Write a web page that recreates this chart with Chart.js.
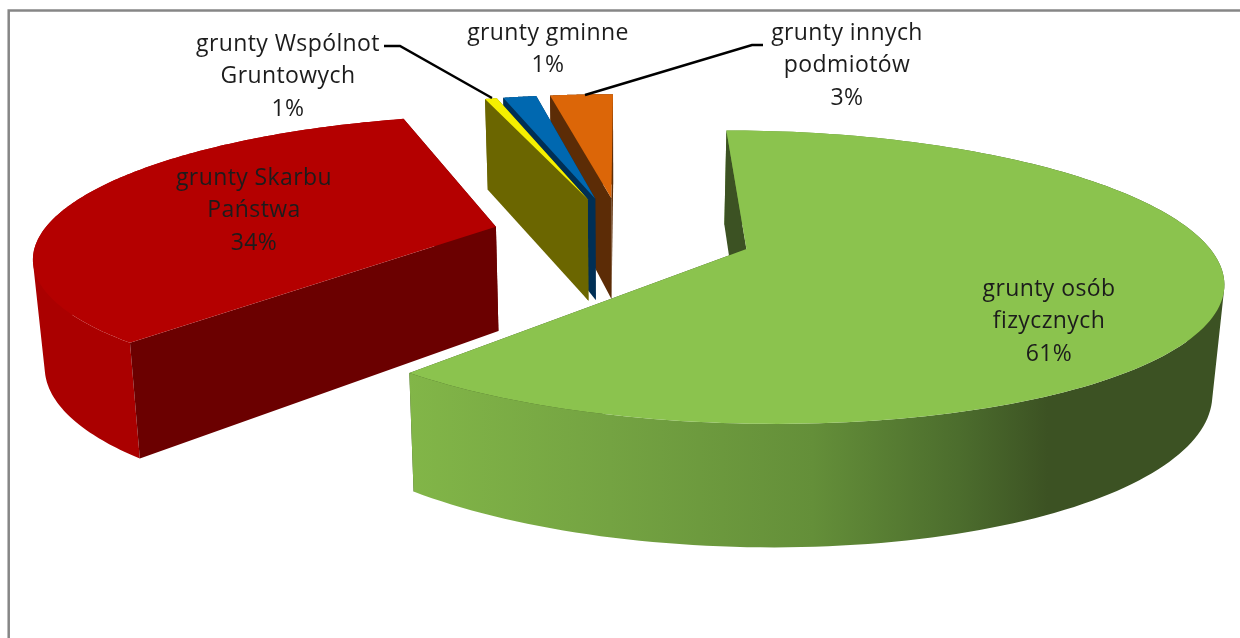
<!DOCTYPE html>
<html lang="pl">
<head>
<meta charset="utf-8">
<title>Struktura własności gruntów</title>
<script src="https://cdn.jsdelivr.net/npm/chart.js@4"></script>
<style>
  html, body { margin: 0; padding: 0; background: #fff; overflow: hidden; }
  canvas { display: block; }
</style>
</head>
<body>
<canvas id="pie3d" width="1240" height="638"></canvas>
<script>
// Dane
const categories = ['grunty osób\nfizycznych', 'grunty Skarbu\nPaństwa', 'grunty Wspólnot\nGruntowych', 'grunty gminne', 'grunty innych\npodmiotów'];
const values = [61.49, 33.8, 0.52, 1.45, 2.74];
const topColors = ['#8bc34e', '#b40000', '#f5f000', '#0068b0', '#dc6608'];
const wallColors = ['#3c5223', '#6b0000', '#6b6600', '#002f55', '#5c2c06'];
const rimColors = ['#3c5223', '#aa0000', '#6b6600', '#002f55', '#5c2c06'];
const drawOrder = [1, 4, 3, 2, 0];

const view = { originX: 622, originY: 235, scaleX: 455, scaleY: 136, persp: 0.188, depth: 105, shrink: 0.02 };

// Rzut punktu z płaszczyzny wykresu na ekran
function project(u, v, z) {
    const w = 1 - view.persp * v;
    return {
        x: view.originX + view.scaleX * u / w * (1 - view.shrink * z),
        y: view.originY + view.scaleY * v / w + view.depth * z / Math.pow(w, 0.7)
    };
}

function fillPoly(ctx, pts, fill) {
    ctx.beginPath();
    pts.forEach((p, i) => i ? ctx.lineTo(p.x, p.y) : ctx.moveTo(p.x, p.y));
    ctx.closePath();
    ctx.fillStyle = fill;
    ctx.fill();
}

// Sciana boczna jako jedna sciezka, czworokaty w tym samym kierunku
function fillBand(ctx, top, bottom, fill) {
    ctx.beginPath();
    for (let s = 0; s < top.length - 1; s++) {
        let quad = [top[s], top[s + 1], bottom[s + 1], bottom[s]];
        let area = 0;
        quad.forEach((p, k) => {
            const q = quad[(k + 1) % 4];
            area += p.x * q.y - q.x * p.y;
        });
        if (area < 0) quad = quad.reverse();
        quad.forEach((p, k) => k ? ctx.lineTo(p.x, p.y) : ctx.moveTo(p.x, p.y));
        ctx.closePath();
    }
    ctx.fillStyle = fill;
    ctx.fill('nonzero');
}

function drawSlice(ctx, arc, i) {
    const R = arc.outerRadius;
    const e = arc.options.offset / R;
    const mid = (arc.startAngle + arc.endAngle) / 2;
    const ou = e * Math.cos(mid);
    const ov = e * Math.sin(mid);
    const steps = 160;
    const rim = z => {
        const pts = [];
        for (let s = 0; s <= steps; s++) {
            const a = arc.startAngle + (arc.endAngle - arc.startAngle) * s / steps;
            pts.push(project(ou + Math.cos(a), ov + Math.sin(a), z));
        }
        return pts;
    };
    const top = rim(0);
    const bottom = rim(1);
    const apexTop = project(ou, ov, 0);
    const apexBottom = project(ou, ov, 1);

    // sciana koncowa
    fillPoly(ctx, [apexTop, top[steps], bottom[steps], apexBottom], wallColors[i]);

    // sciana boczna (zielony wycinek ma przejscie kolorow)
    let rimFill = rimColors[i];
    if (i === 0) {
        const g = ctx.createLinearGradient(407, 0, 1218, 0);
        g.addColorStop(0, '#82b648');
        g.addColorStop(0.25, '#74a342');
        g.addColorStop(0.5, '#648f39');
        g.addColorStop(0.68, '#4c6d2d');
        g.addColorStop(0.79, '#3c5223');
        g.addColorStop(1, '#3c5223');
        rimFill = g;
    }
    fillBand(ctx, top, bottom, rimFill);

    // sciana poczatkowa
    fillPoly(ctx, [apexTop, top[0], bottom[0], apexBottom], wallColors[i]);

    // wierzch
    fillPoly(ctx, [apexTop].concat(top), topColors[i]);
}

const labelBoxes = [
    { x: 1049, y: 289 },
    { x: 254, y: 178 },
    { x: 288, y: 44 },
    { x: 548, y: 33 },
    { x: 847, y: 33 }
];
const leaderLines = [
    [[384, 46], [400, 46], [492, 98]],
    [[585, 95], [752, 45], [763, 45]]
];

const pie3dPlugin = {
    id: 'pie3d',
    beforeDraw(chart) {
        const ctx = chart.ctx;
        ctx.save();
        ctx.strokeStyle = '#868686';
        ctx.lineWidth = 2.5;
        ctx.beginPath();
        ctx.moveTo(8.7, 638);
        ctx.lineTo(8.7, 10.5);
        ctx.lineTo(1240, 10.5);
        ctx.stroke();
        ctx.restore();
    },
    // Zwykle rysowanie wycinkow wylaczone, rysujemy je w 3D ponizej
    beforeDatasetDraw() {
        return false;
    },
    afterDatasetsDraw(chart) {
        const ctx = chart.ctx;
        const arcs = chart.getDatasetMeta(0).data;
        const total = values.reduce((a, b) => a + b, 0);
        ctx.save();
        drawOrder.forEach(i => drawSlice(ctx, arcs[i], i));

        // linie odniesienia
        ctx.strokeStyle = '#000';
        ctx.lineWidth = 2.5;
        leaderLines.forEach(line => {
            ctx.beginPath();
            line.forEach((p, k) => k ? ctx.lineTo(p[0], p[1]) : ctx.moveTo(p[0], p[1]));
            ctx.stroke();
        });

        // etykiety
        ctx.fillStyle = '#1c1c1c';
        ctx.font = '23px "Open Sans"';
        ctx.letterSpacing = '0.4px';
        ctx.textAlign = 'center';
        ctx.textBaseline = 'middle';
        categories.forEach((c, i) => {
            const lines = c.split('\n').concat(Math.round(values[i] / total * 100) + '%');
            lines.forEach((t, k) => ctx.fillText(t, labelBoxes[i].x, labelBoxes[i].y + k * 32.5));
        });
        ctx.restore();
    }
};

new Chart(document.getElementById('pie3d'), {
    type: 'pie',
    data: {
        labels: categories.map(c => c.replace('\n', ' ')),
        datasets: [{
            data: values,
            backgroundColor: topColors,
            borderWidth: 0,
            offset: 80
        }]
    },
    options: {
        responsive: false,
        animation: false,
        rotation: 0,
        plugins: { legend: { display: false }, tooltip: { enabled: false } }
    },
    plugins: [pie3dPlugin]
});
</script>
</body>
</html>
